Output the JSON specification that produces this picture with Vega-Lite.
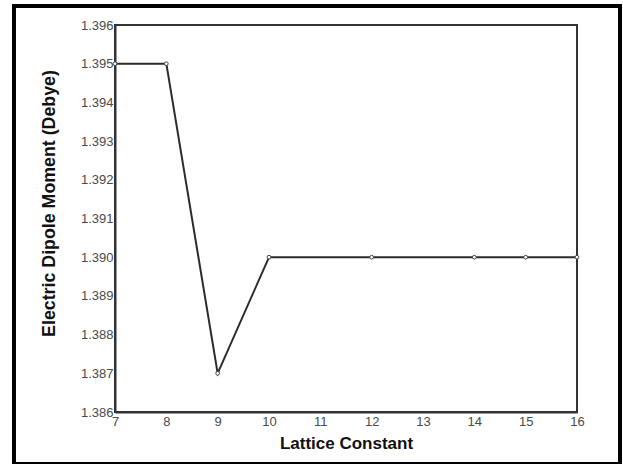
{
  "$schema": "https://vega.github.io/schema/vega-lite/v6.json",
  "autosize": {"type": "none"},
  "width": 462,
  "height": 387,
  "padding": {"left": 115, "top": 25, "right": 46, "bottom": 52},
  "background": "white",
  "data": {"values": [
    {"lattice": 7, "dipole": 1.395},
    {"lattice": 8, "dipole": 1.395},
    {"lattice": 9, "dipole": 1.387},
    {"lattice": 10, "dipole": 1.390},
    {"lattice": 12, "dipole": 1.390},
    {"lattice": 14, "dipole": 1.390},
    {"lattice": 15, "dipole": 1.390},
    {"lattice": 16, "dipole": 1.390}
  ]},
  "layer": [
    {
      "mark": {"type": "rect", "fill": null, "fillOpacity": 0, "stroke": "#000", "strokeWidth": 3, "clip": false},
      "encoding": {
        "x": {"datum": 5.03, "type": "quantitative"},
        "x2": {"datum": 16.84},
        "y": {"datum": 1.39649, "type": "quantitative"},
        "y2": {"datum": 1.38466}
      }
    },
    {
      "mark": {"type": "line", "color": "#2b2b2b", "strokeWidth": 2, "point": {"filled": false, "fill": "white", "stroke": "#444", "strokeWidth": 1, "size": 14}},
      "encoding": {
        "x": {"field": "lattice", "type": "quantitative"},
        "y": {"field": "dipole", "type": "quantitative"}
      }
    }
  ],
  "encoding": {
    "x": {"field": "lattice", "type": "quantitative", "scale": {"domain": [7, 16], "nice": false, "zero": false},
      "axis": {"title": "Lattice Constant", "values": [7,8,9,10,11,12,13,14,15,16], "tickSize": 0, "grid": false,
        "labelPadding": 3, "labelDx": 4, "labelFontSize": 13, "labelColor": "#4a4a4a", "labelFont": "Liberation Sans",
        "titleFont": "Liberation Sans", "titleFontSize": 17, "titleFontWeight": "bold", "titleColor": "#111", "titlePadding": 7,
        "domainColor": "#333", "domainWidth": 2, "labelFlush": false}},
    "y": {"field": "dipole", "type": "quantitative", "scale": {"domain": [1.386, 1.396], "nice": false, "zero": false},
      "axis": {"title": "Electric Dipole Moment (Debye)", "values": [1.386,1.387,1.388,1.389,1.39,1.391,1.392,1.393,1.394,1.395,1.396], "format": ".3f", "tickSize": 0, "grid": false,
        "labelPadding": 2, "labelDy": -2, "labelFontSize": 13, "labelColor": "#4a4a4a", "labelFont": "Liberation Sans",
        "titleFont": "Liberation Sans", "titleFontSize": 17.8, "titleFontWeight": "bold", "titleColor": "#111", "titlePadding": 22, "titleY": 178,
        "domainColor": "#333", "domainWidth": 2, "labelFlush": false}}
  },
  "config": {"view": {"stroke": "#333", "strokeWidth": 2}}
}
